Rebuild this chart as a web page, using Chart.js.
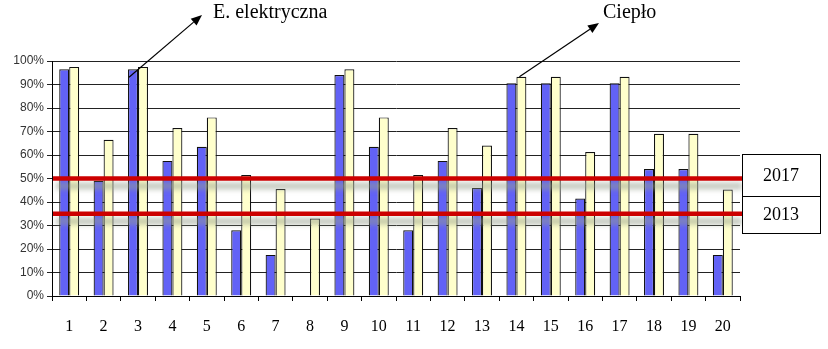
<!DOCTYPE html>
<html>
<head>
<meta charset="utf-8">
<script src="https://cdn.jsdelivr.net/npm/chart.js@4/dist/chart.umd.min.js"></script>
<style>
  html, body { margin: 0; padding: 0; background: #ffffff; }
  #wrap { width: 828px; height: 349px; position: relative; }
</style>
</head>
<body>
<div id="wrap"><canvas id="c" width="828" height="349"></canvas></div>
<script>
// Categories 1..20
const categories = ['1','2','3','4','5','6','7','8','9','10','11','12','13','14','15','16','17','18','19','20'];
// Electricity share (%)
const elektryczna = [96.5, 49, 96.5, 57.5, 63.5, 28, 17.5, 0, 94, 63.5, 28, 57.5, 46, 90.5, 90.5, 41.5, 90.5, 54, 54, 17.5];
// Heat share (%)
const cieplo = [97.5, 66.5, 97.5, 71.5, 76, 51.5, 45.5, 33, 96.5, 76, 51.5, 71.5, 64, 93.3, 93.3, 61.3, 93.3, 69, 69, 45.3];
// Target levels and their years
const targetValues = [50, 35];
const targetYears = ['2017', '2013'];
// Percent ticks
const yTicks = [0, 10, 20, 30, 40, 50, 60, 70, 80, 90, 100];

const SERIF = '"Liberation Serif", "Times New Roman", serif';
const SANS = '"Liberation Sans", Arial, sans-serif';

function arrow(ctx, x1, y1, x2, y2) {
  const ang = Math.atan2(y2 - y1, x2 - x1);
  const head = 11, half = 4.5;
  const bx = x2 - head * Math.cos(ang), by = y2 - head * Math.sin(ang);
  ctx.beginPath();
  ctx.moveTo(x1, y1);
  ctx.lineTo(bx, by);
  ctx.strokeStyle = '#000';
  ctx.lineWidth = 1.2;
  ctx.stroke();
  ctx.beginPath();
  ctx.moveTo(x2, y2);
  ctx.lineTo(bx - half * Math.sin(ang), by + half * Math.cos(ang));
  ctx.lineTo(bx + half * Math.sin(ang), by - half * Math.cos(ang));
  ctx.closePath();
  ctx.fillStyle = '#000';
  ctx.fill();
}

// Target lines with soft shadow, year box and series annotations
const overlay = {
  id: 'overlay',
  afterDatasetsDraw(chart) {
    const { ctx, chartArea, scales } = chart;
    const y = scales.y;
    const boxLeft = chartArea.right + 2, boxRight = boxLeft + 78;
    ctx.save();
    // shadows
    targetValues.forEach(v => {
      const py = y.getPixelForValue(v);
      ctx.save();
      ctx.filter = 'blur(2.5px)';
      ctx.fillStyle = 'rgba(150,158,140,0.55)';
      ctx.fillRect(chartArea.left + 4, py + 4, boxLeft - chartArea.left - 4, 7);
      ctx.restore();
    });
    // red lines
    targetValues.forEach(v => {
      const py = y.getPixelForValue(v);
      ctx.beginPath();
      ctx.moveTo(chartArea.left + 1, py);
      ctx.lineTo(boxLeft, py);
      ctx.strokeStyle = '#cc0000';
      ctx.lineWidth = 4.5;
      ctx.stroke();
    });
    // year box
    const top = y.getPixelForValue(60.4), mid = y.getPixelForValue(42.5), bot = y.getPixelForValue(26.8);
    ctx.fillStyle = '#fff';
    ctx.fillRect(boxLeft, top, boxRight - boxLeft, bot - top);
    ctx.strokeStyle = '#000';
    ctx.lineWidth = 1;
    ctx.strokeRect(boxLeft + 0.5, Math.round(top) + 0.5, boxRight - boxLeft, Math.round(bot - top));
    ctx.beginPath();
    ctx.moveTo(boxLeft, Math.round(mid) + 0.5);
    ctx.lineTo(boxRight, Math.round(mid) + 0.5);
    ctx.stroke();
    ctx.fillStyle = '#000';
    ctx.font = '18px ' + SERIF;
    ctx.textAlign = 'center';
    ctx.textBaseline = 'middle';
    ctx.fillText(targetYears[0], (boxLeft + boxRight) / 2, (top + mid) / 2 + 1);
    ctx.fillText(targetYears[1], (boxLeft + boxRight) / 2, (mid + bot) / 2 + 1);

    // series annotations
    const eBar = chart.getDatasetMeta(0).data[2];
    const cBar = chart.getDatasetMeta(1).data[13];
    arrow(ctx, eBar.x - 4, eBar.y + 8, 202, 15);
    arrow(ctx, cBar.x - 2, cBar.y, 599, 23);
    ctx.font = '20px ' + SERIF;
    ctx.textAlign = 'left';
    ctx.textBaseline = 'middle';
    ctx.fillText('E. elektryczna', 213, 13);
    ctx.fillText('Ciepło', 603, 13);
    ctx.restore();
  }
};

new Chart(document.getElementById('c'), {
  type: 'bar',
  data: {
    labels: categories,
    datasets: [
      { label: 'E. elektryczna', data: elektryczna, backgroundColor: '#6262f6', borderColor: '#111', borderWidth: 1.2 },
      { label: 'Ciepło', data: cieplo, backgroundColor: '#ffffcc', borderColor: '#111', borderWidth: 1.2 }
    ]
  },
  options: {
    responsive: false,
    animation: false,
    devicePixelRatio: 1,
    layout: { padding: { left: 0, right: 88, top: 61, bottom: 0 } },
    datasets: { bar: { barPercentage: 1, categoryPercentage: 0.58 } },
    plugins: { legend: { display: false }, tooltip: { enabled: false } },
    scales: {
      x: {
        grid: { display: true, drawOnChartArea: false, drawTicks: true, tickLength: 5, color: '#000', offset: true },
        border: { color: '#000', width: 1 },
        ticks: { color: '#000', font: { family: SERIF, size: 16 }, padding: 16, maxRotation: 0, autoSkip: false },
        afterFit(s) { s.height = 53; }
      },
      y: {
        min: 0, max: 100,
        afterBuildTicks(s) { s.ticks = yTicks.map(v => ({ value: v })); },
        grid: { color: '#222', lineWidth: 1, tickLength: 5, drawTicks: true },
        border: { color: '#000', width: 1 },
        ticks: { color: '#333', font: { family: SANS, size: 12 }, padding: 3, callback: v => v + '%' },
        afterFit(s) { s.width = 52; }
      }
    }
  },
  plugins: [overlay]
});
</script>
</body>
</html>
